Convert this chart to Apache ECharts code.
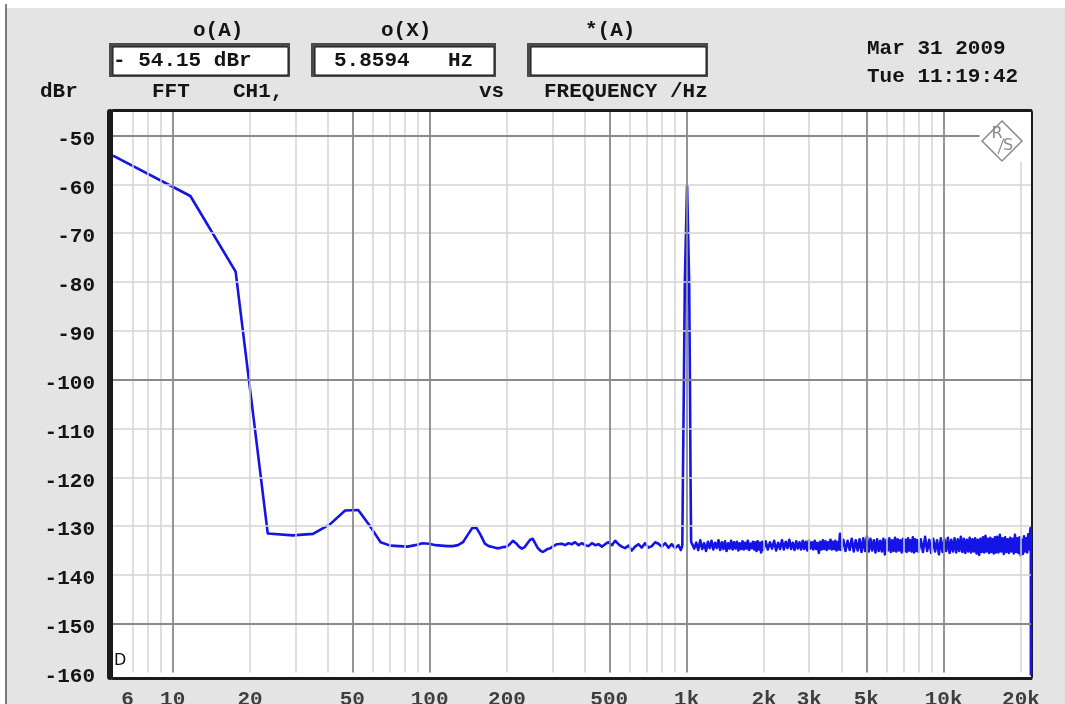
<!DOCTYPE html>
<html>
<head>
<meta charset="utf-8">
<title>FFT CH1 vs FREQUENCY</title>
<script src="https://cdn.jsdelivr.net/npm/echarts@6.0.0/dist/echarts.min.js"></script>
<style>
html, body { margin: 0; padding: 0; background: #fff; }
#FftChart { width: 1065px; height: 704px; }
</style>
</head>
<body>
<div id="FftChart"></div>
<script>

var global = {};

// axis range (Hz / dBr)
var xMin = 5.8594, xMax = 21880;
var yMin = -160.9, yMax = -45.2;

// FFT bins below 300 Hz  [Hz, dBr]
var lowBins = [
    [5.8594, -54.15], [11.72, -62.4], [17.58, -77.9], [23.44, -131.5], [29.30, -131.9],
    [35.16, -131.6], [41.02, -129.6], [46.88, -126.8], [52.73, -126.7], [58.59, -130.0],
    [64.45, -133.3], [70.31, -134.0], [76.17, -134.1], [82.03, -134.2], [87.89, -133.9],
    [93.75, -133.5], [99.61, -133.6], [105.47, -133.9], [111.33, -134.0], [117.19, -134.1],
    [123.05, -134.1], [128.91, -133.9], [134.77, -133.3], [140.63, -131.8], [146.48, -130.4],
    [152.34, -130.4], [158.20, -131.9], [164.06, -133.6], [169.92, -134.1], [175.78, -134.3],
    [181.64, -134.5], [187.50, -134.5], [193.36, -134.3], [199.22, -134.2], [205.08, -133.7],
    [210.94, -133.0], [216.80, -133.5], [222.66, -134.2], [228.52, -134.6], [234.38, -134.3],
    [240.23, -133.5], [246.09, -132.8], [251.95, -132.6], [257.81, -133.6], [263.67, -134.5],
    [269.53, -135.0], [275.39, -135.3], [281.25, -135.0], [287.11, -134.7], [293.00, -134.6]
];

// 300 Hz .. 950 Hz
var midBand = [
    [303, -134.1], [313, -133.7], [317, -133.3], [327, -133.6], [337, -133.9], [347, -133.5],
    [358, -133.7], [368, -133.3], [380, -133.9], [391, -133.5], [403, -133.9], [415, -134.1],
    [428, -133.5], [441, -133.9], [454, -133.7], [468, -134.2], [482, -133.7], [496, -133.3],
    [512, -133.9], [527, -133.0], [543, -133.7], [559, -134.2], [576, -134.5], [594, -134.0],
    [612, -135.0], [630, -134.2], [649, -133.7], [669, -134.4], [689, -133.5], [710, -134.4],
    [732, -134.1], [754, -133.3], [777, -133.6], [800, -134.2], [825, -133.5], [850, -134.4],
    [875, -133.7], [902, -134.5], [929, -133.9], [949, -134.9]
];

// 1 kHz tone
var carrier = [
    [962, -134.0], [967, -121.0], [976, -100.0], [984, -80.0], [1004, -60.2],
    [1023, -80.0], [1030, -100.0], [1036, -121.0], [1041, -133.2]
];

// noise floor 1 kHz .. 22 kHz
var noiseBand = [
    [1050, -133.1], [1070, -134.6], [1090, -133.4], [1110, -134.9], [1130, -132.9], [1150, -134.7],
    [1170, -133.5], [1190, -135.1], [1210, -133.2], [1230, -134.5], [1250, -133.0], [1270, -134.8],
    [1290, -133.4], [1310, -134.5], [1330, -132.9], [1350, -134.9], [1370, -133.3], [1390, -134.7],
    [1410, -133.1], [1430, -135.1], [1450, -133.5], [1470, -134.6], [1490, -133.0], [1510, -134.8],
    [1530, -133.3], [1550, -134.6], [1570, -133.2], [1590, -135.0], [1610, -133.5], [1630, -134.7],
    [1650, -133.1], [1670, -134.8], [1690, -133.4], [1710, -134.6], [1730, -133.0], [1750, -134.9],
    [1770, -133.6], [1790, -134.5], [1810, -133.2], [1830, -134.8], [1850, -133.3], [1870, -135.1],
    [1890, -133.1], [1910, -134.8], [1930, -133.4], [1950, -135.4], [1970, -133.2], [1990, -134.9],

    [2030, -133.1], [2070, -134.8], [2110, -133.3], [2150, -134.6], [2190, -133.0], [2230, -135.0],
    [2270, -133.4], [2310, -134.7], [2350, -132.9], [2390, -134.8], [2430, -133.2], [2470, -134.5],
    [2510, -132.8], [2550, -134.7], [2590, -133.4], [2630, -134.9], [2670, -133.1], [2710, -134.6],
    [2750, -133.3], [2790, -134.8], [2830, -133.0], [2870, -134.7], [2910, -133.2], [2950, -135.0],
    [2990, -132.9], [3030, -134.6], [3070, -133.3], [3110, -134.8], [3150, -133.0], [3190, -134.7],
    [3230, -133.4], [3270, -135.5], [3310, -133.2], [3350, -134.8], [3390, -132.9], [3430, -134.7],
    [3470, -133.1], [3510, -134.9], [3550, -133.3], [3590, -134.6], [3630, -132.8], [3670, -134.8],
    [3710, -133.2], [3750, -134.7], [3790, -133.0], [3830, -135.0], [3870, -133.3], [3910, -134.8],
    [3950, -131.6], [3990, -134.9],

    [4070, -132.8], [4150, -135.1], [4230, -133.0], [4310, -134.9], [4390, -132.6], [4470, -135.2],
    [4550, -132.9], [4630, -135.0], [4710, -132.7], [4790, -135.3], [4870, -132.5], [4950, -135.1],
    [5030, -132.1], [5110, -135.2], [5190, -132.6], [5270, -135.0], [5350, -132.9], [5430, -135.4],
    [5510, -132.7], [5590, -135.1], [5670, -133.0], [5750, -135.2], [5830, -132.6], [5910, -135.8],
    [5990, -132.8], [6070, -135.0], [6150, -132.5], [6230, -135.3], [6310, -132.9], [6390, -135.1],
    [6470, -132.4], [6550, -135.2], [6630, -132.7], [6710, -135.0], [6790, -132.9], [6870, -135.4],
    [6950, -132.6], [7030, -135.1], [7110, -132.8], [7190, -135.3], [7270, -132.5], [7350, -135.0],
    [7430, -132.9], [7510, -135.2], [7590, -132.3], [7670, -135.4], [7750, -132.7], [7830, -135.1],
    [7910, -132.9], [7990, -135.3],

    [8150, -132.7], [8310, -135.3], [8470, -132.2], [8630, -135.1], [8790, -132.8], [8950, -135.5],
    [9110, -132.6], [9270, -135.2], [9430, -132.9], [9590, -135.8], [9750, -132.5], [9910, -135.3],
    [10070, -132.7], [10230, -135.1], [10390, -132.4], [10550, -135.5], [10710, -132.8], [10870, -135.2],
    [11030, -132.5], [11190, -135.4], [11350, -132.7], [11510, -135.1], [11670, -132.2], [11830, -135.3],
    [11990, -132.6], [12150, -135.5], [12310, -132.8], [12470, -135.2], [12630, -132.4], [12790, -135.4],
    [12950, -132.7], [13110, -135.2], [13270, -132.5], [13430, -135.6], [13590, -132.8], [13750, -135.9],
    [13910, -132.6], [14070, -135.3], [14230, -132.3], [14390, -135.4], [14550, -132.0], [14710, -135.2],
    [14870, -132.6], [15030, -135.5], [15190, -132.4], [15350, -135.3], [15510, -132.7], [15670, -135.6],
    [15830, -132.3], [15990, -135.4],

    [16150, -132.2], [16350, -135.4], [16550, -131.8], [16750, -135.2], [16950, -132.5], [17150, -135.7],
    [17350, -132.3], [17550, -135.3], [17750, -132.7], [17950, -135.5], [18150, -132.4], [18350, -135.2],
    [18550, -132.6], [18750, -135.6], [18950, -131.8], [19150, -135.3], [19350, -132.5], [19550, -135.5],
    [19750, -132.3], [19950, -136.0], [20150, -132.8], [20350, -135.7], [20550, -132.1], [20750, -135.2],
    [20950, -132.5], [21150, -135.4], [21350, -131.7], [21550, -134.8], [21740, -130.6], [21780, -133.6],
    [21810, -130.3], [21840, -132.8], [21860, -160.6]
];

// grid
var minorFreqLines = [7, 8, 9, 20, 30, 40, 60, 70, 80, 90, 200, 300, 400, 600, 700, 800, 900,
    2000, 3000, 4000, 6000, 7000, 8000, 9000];
var majorFreqLines = [10, 50, 100, 500, 1000, 5000, 10000];
var minorLevelLines = [-60, -70, -80, -90, -110, -120, -130, -140];
var majorLevelLines = [-100, -150];

// tick labels
var freqTicks = [6, 10, 20, 50, 100, 200, 500, 1000, 2000, 3000, 5000, 10000, 20000];
var freqTickLabels = ['6', '10', '20', '50', '100', '200', '500', '1k', '2k', '3k', '5k', '10k', '20k'];
var levelTicks = [-160, -150, -140, -130, -120, -110, -100, -90, -80, -70, -60, -50];

var monoFont = 'bold 21px "Liberation Mono", "Courier New", monospace';

InitChart();

function Txt(x, y, s, font) {
    return {
        type: 'text', x: x, y: y, z: 100,
        style: { text: s, font: font || monoFont, fill: '#141414', align: 'left', verticalAlign: 'middle' }
    };
}

function ReadoutBox(x, y, w, h) {
    return [
        { type: 'rect', z: 100, shape: { x: x, y: y, width: w, height: h }, style: { fill: '#4a4a4a' } },
        { type: 'rect', z: 100, shape: { x: x + 4, y: y + 4, width: w - 6, height: h - 6 }, style: { fill: '#fff', stroke: '#111', lineWidth: 1 } }
    ];
}

function InitChart() {

    global.FftChart = echarts.init(document.getElementById('FftChart'), null, { renderer: 'canvas' });

    var trace = [].concat(lowBins, midBand, carrier, noiseBand);

    // grid lines
    var minorLines = [];
    $each(minorFreqLines, function (f) {
        minorLines.push([{ coord: [f, -160] }, { coord: [f, yMax] }]);
    });
    minorLines.push([{ coord: [20000, -55.4] }, { coord: [20000, -160] }]);
    $each(minorLevelLines, function (v) {
        minorLines.push({ yAxis: v });
    });

    var majorLines = [];
    $each(majorFreqLines, function (f) {
        majorLines.push([{ coord: [f, -160] }, { coord: [f, yMax] }]);
    });
    $each(majorLevelLines, function (v) {
        majorLines.push({ yAxis: v });
    });
    majorLines.push([{ coord: [xMin, -50] }, { coord: [13800, -50] }]);

    var labelPoints = [];
    $each(freqTicks, function (f, i) {
        labelPoints.push({
            value: [f, yMin],
            label: { offset: [i == 0 ? 12 : 0, 0] }
        });
    });

    var logoFont = '16px "DejaVu Sans", sans-serif';

    var graphics = [
        { type: 'rect', z: 100, shape: { x: 0, y: 0, width: 1065, height: 8 }, style: { fill: '#fff' } },
        { type: 'rect', z: 100, shape: { x: 0, y: 0, width: 5, height: 704 }, style: { fill: '#fff' } },
        { type: 'line', z: 100, shape: { x1: 6, y1: 4, x2: 6, y2: 704 }, style: { stroke: '#555', lineWidth: 1.5 } },

        Txt(193, 31, 'o(A)'),
        Txt(381, 31, 'o(X)'),
        Txt(585, 31, '*(A)'),
        Txt(40, 92, 'dBr'),
        Txt(152, 92, 'FFT'),
        Txt(233, 92, 'CH1,'),
        Txt(479, 92, 'vs'),
        Txt(544, 92, 'FREQUENCY /Hz'),
        Txt(867, 49, 'Mar 31 2009'),
        Txt(867, 77, 'Tue 11:19:42'),

        // R&S logo
        { type: 'polygon', z: 100, shape: { points: [[1002, 121], [1022, 141], [1002, 161], [982, 141]] }, style: { fill: 'none', stroke: '#8a8a8a', lineWidth: 1.5 } },
        { type: 'text', z: 100, x: 997, y: 134, style: { text: 'R', font: logoFont, fill: '#8a8a8a', align: 'center', verticalAlign: 'middle' } },
        { type: 'text', z: 100, x: 1008, y: 146, style: { text: 'S', font: logoFont, fill: '#8a8a8a', align: 'center', verticalAlign: 'middle' } },
        { type: 'line', z: 100, shape: { x1: 998, y1: 154, x2: 1004, y2: 138 }, style: { stroke: '#8a8a8a', lineWidth: 1.2 } },

        // marker
        { type: 'text', z: 100, x: 114, y: 661, style: { text: 'D', font: '16px "DejaVu Sans", sans-serif', fill: '#111', align: 'left', verticalAlign: 'middle' } }
    ];

    graphics = graphics.concat(ReadoutBox(109, 43, 181, 34), ReadoutBox(311, 43, 185, 34), ReadoutBox(527, 43, 181, 34));
    graphics.push(Txt(113, 61, '- 54.15 dBr'));
    graphics.push(Txt(334, 61, '5.8594'));
    graphics.push(Txt(448, 61, 'Hz'));

    global.FftChartOption = {
        backgroundColor: '#e4e4e4',
        animation: false,
        grid: {
            left: 113,
            right: 34,
            top: 112,
            bottom: 27,
            show: true,
            backgroundColor: '#fff',
            borderWidth: 0
        },
        xAxis: [{
            type: 'log',
            logBase: 10,
            min: xMin,
            max: xMax,
            offset: 1.5,
            axisLine: { show: true, onZero: false, lineStyle: { color: '#1a1a1a', width: 3 } },
            axisTick: { show: false },
            axisLabel: { show: false },
            splitLine: { show: false }
        }, {
            type: 'value',
            position: 'top',
            min: 0,
            max: 1,
            offset: 1.5,
            axisLine: { show: true, onZero: false, lineStyle: { color: '#1a1a1a', width: 3 } },
            axisTick: { show: false },
            axisLabel: { show: false },
            splitLine: { show: false }
        }],
        yAxis: [{
            type: 'value',
            min: yMin,
            max: yMax,
            offset: 3,
            axisLine: { show: true, onZero: false, lineStyle: { color: '#1a1a1a', width: 6 } },
            axisTick: { show: false },
            axisLabel: {
                customValues: levelTicks,
                margin: 15,
                verticalAlign: 'top',
                lineHeight: 8,
                color: '#141414',
                fontFamily: '"Liberation Mono", "Courier New", monospace',
                fontWeight: 'bold',
                fontSize: 21
            },
            splitLine: { show: false }
        }, {
            type: 'value',
            position: 'right',
            min: 0,
            max: 1,
            offset: 1,
            axisLine: { show: true, onZero: false, lineStyle: { color: '#1a1a1a', width: 2 } },
            axisTick: { show: false },
            axisLabel: { show: false },
            splitLine: { show: false }
        }],
        graphic: graphics,
        series: [{
            name: 'minorGrid',
            type: 'line',
            data: [],
            silent: true,
            z: 1,
            markLine: {
                silent: true,
                animation: false,
                symbol: ['none', 'none'],
                label: { show: false },
                lineStyle: { color: '#d3d3d3', width: 1.5, type: 'solid' },
                emphasis: { disabled: true },
                data: minorLines
            }
        }, {
            name: 'majorGrid',
            type: 'line',
            data: [],
            silent: true,
            z: 1,
            markLine: {
                silent: true,
                animation: false,
                symbol: ['none', 'none'],
                label: { show: false },
                lineStyle: { color: '#8a8a8a', width: 1.8, type: 'solid' },
                emphasis: { disabled: true },
                data: majorLines
            }
        }, {
            name: 'CH1',
            type: 'line',
            data: trace,
            z: 3,
            showSymbol: false,
            smooth: false,
            lineStyle: { color: '#1414e6', width: 2.6, join: 'round' },
            itemStyle: { color: '#1414e6' }
        }, {
            name: 'freqLabels',
            type: 'scatter',
            data: labelPoints,
            silent: true,
            clip: false,
            symbolSize: 1,
            itemStyle: { color: 'rgba(0,0,0,0)' },
            label: {
                show: true,
                position: 'bottom',
                distance: 12,
                color: '#141414',
                fontFamily: '"Liberation Mono", "Courier New", monospace',
                fontWeight: 'bold',
                fontSize: 21,
                formatter: function (p) { return freqTickLabels[p.dataIndex]; }
            }
        }]
    };

    global.FftChart.setOption(global.FftChartOption);
}

function $each(arr, fn) {
    for (var i = 0; i < arr.length; i++) fn(arr[i], i);
}

</script>
</body>
</html>
